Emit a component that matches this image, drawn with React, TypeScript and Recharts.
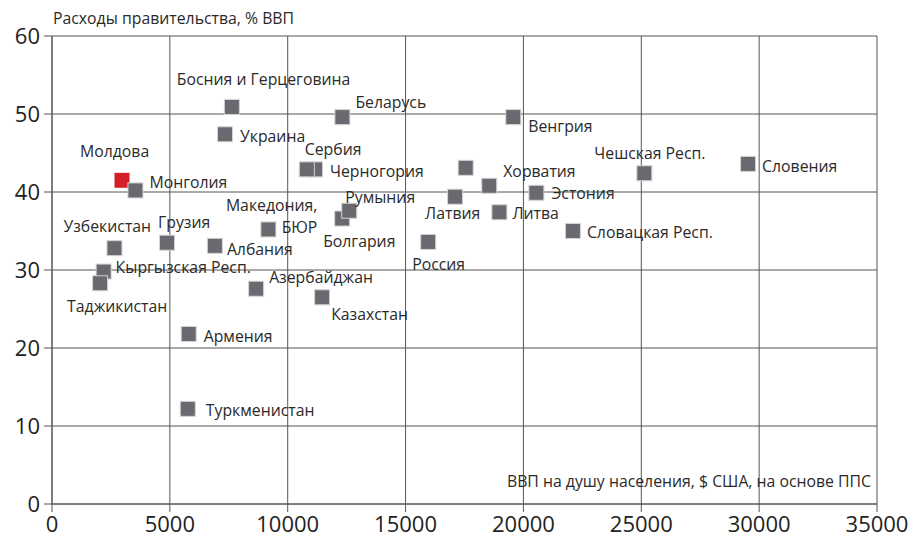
import React from "react";
import { ScatterChart, Scatter, XAxis, YAxis, CartesianGrid } from "recharts";

// Draw order matters for overlapping squares
const countries = [
  "Молдова",
  "Монголия",
  "Босния и Герцеговина",
  "Украина",
  "Беларусь",
  "Венгрия",
  "Черногория",
  "Сербия",
  "Болгария",
  "Румыния",
  "Россия",
  "Латвия",
  "",
  "Хорватия",
  "Литва",
  "Эстония",
  "Словацкая Респ.",
  "Чешская Респ.",
  "Словения",
  "Узбекистан",
  "Грузия",
  "Албания",
  "Македония,\nБЮР",
  "Кыргызская Респ.",
  "Таджикистан",
  "Азербайджан",
  "Казахстан",
  "Армения",
  "Туркменистан",
];

const gdpPerCapita = [
  2970, 3540, 7630, 7340, 12320, 19570, 11160, 10810, 12310, 12610, 15960,
  17100, 17550, 18550, 18980, 20550, 22100, 25130, 29530, 2650, 4880, 6910,
  9180, 2190, 2040, 8660, 11460, 5800, 5760,
];

const govSpending = [
  41.5, 40.2, 50.9, 47.4, 49.6, 49.6, 42.9, 42.9, 36.6, 37.6, 33.6, 39.4,
  43.1, 40.8, 37.4, 39.9, 35.0, 42.4, 43.6, 32.8, 33.5, 33.1, 35.2, 29.8,
  28.3, 27.6, 26.5, 21.8, 12.2,
];

const highlighted = ["Молдова"];

const xTicks = [0, 5000, 10000, 15000, 20000, 25000, 30000, 35000];
const yTicks = [0, 10, 20, 30, 40, 50, 60];

const yTitle = "Расходы правительства, % ВВП";
const xTitle = "ВВП на душу населения, $ США, на основе ППС";

// label placement relative to marker centre: [dx, dy, anchor]
const labelPlacement: Record<string, [number, number, string]> = {
  "Молдова": [-42, -29, "start"],
  "Монголия": [14, -8, "start"],
  "Босния и Герцеговина": [-55, -28, "start"],
  "Украина": [15, 2, "start"],
  "Беларусь": [13, -15, "start"],
  "Венгрия": [15, 9, "start"],
  "Черногория": [15, 2, "start"],
  "Сербия": [-2, -20, "start"],
  "Болгария": [-19, 22, "start"],
  "Румыния": [-4, -14, "start"],
  "Россия": [-16, 22, "start"],
  "Латвия": [-30, 16, "start"],
  "Хорватия": [14, -15, "start"],
  "Литва": [13, 1, "start"],
  "Эстония": [15, 0, "start"],
  "Словацкая Респ.": [14, 1, "start"],
  "Чешская Респ.": [-50, -20, "start"],
  "Словения": [14, 2, "start"],
  "Узбекистан": [-51, -22, "start"],
  "Грузия": [-9, -21, "start"],
  "Албания": [12, 3, "start"],
  "Македония,\nБЮР": [49, -24, "end"],
  "Кыргызская Респ.": [12, -5, "start"],
  "Таджикистан": [-33, 23, "start"],
  "Азербайджан": [13, -12, "start"],
  "Казахстан": [9, 17, "start"],
  "Армения": [15, 2, "start"],
  "Туркменистан": [18, 1, "start"],
};

const points = countries.map((name, i) => ({
  name,
  x: gdpPerCapita[i],
  y: govSpending[i],
}));
const redPoints = points.filter((p) => highlighted.includes(p.name));
const grayPoints = points.filter((p) => !highlighted.includes(p.name));

const FONT = "'Open Sans', sans-serif";
const LABEL_SIZE = 15.8;

const Square = (fill: string, stroke: string) => (props: any) => {
  const { cx, cy } = props;
  if (cx == null || cy == null) return null;
  const s = 15;
  return (
    <rect
      x={cx - s / 2}
      y={cy - s / 2}
      width={s}
      height={s}
      fill={fill}
      stroke={stroke}
      strokeWidth={1}
    />
  );
};

const LabelShape = (props: any) => {
  const { cx, cy, payload } = props;
  if (cx == null || cy == null || !payload || !payload.name) return null;
  const place = labelPlacement[payload.name];
  if (!place) return null;
  const [dx, dy, anchor] = place;
  const lines = String(payload.name).split("\n");
  return (
    <text
      x={cx + dx}
      y={cy + dy}
      textAnchor={anchor as any}
      dominantBaseline="central"
      fontFamily={FONT}
      fontSize={LABEL_SIZE}
      fill="#2a2a2a"
    >
      {lines.map((l, i) => (
        <tspan key={i} x={cx + dx} dy={i === 0 ? 0 : 22}>
          {l}
        </tspan>
      ))}
    </text>
  );
};

export default function App() {
  return (
    <div
      style={{
        position: "absolute",
        left: 0,
        top: 0,
        width: 913,
        height: 544,
        background: "#fff",
      }}
    >
      <ScatterChart
        width={913}
        height={544}
        margin={{ top: 36, right: 36, bottom: 0, left: 0 }}
      >
        <CartesianGrid stroke="#555" strokeWidth={1} />
        <XAxis
          type="number"
          dataKey="x"
          domain={[0, 35000]}
          ticks={xTicks}
          interval={0}
          height={40}
          tickSize={8}
          axisLine={{ stroke: "#555" }}
          tickLine={{ stroke: "#555" }}
          tick={{ fontSize: 22, fill: "#222", fontFamily: FONT }}
          tickMargin={4}
        />
        <YAxis
          type="number"
          dataKey="y"
          domain={[0, 60]}
          ticks={yTicks}
          interval={0}
          width={52}
          tickSize={8}
          axisLine={{ stroke: "#555" }}
          tickLine={{ stroke: "#555" }}
          tick={{ fontSize: 22, fill: "#222", fontFamily: FONT }}
          tickMargin={4}
        />
        <Scatter
          data={redPoints}
          shape={Square("#d51f26", "none")}
          isAnimationActive={false}
        />
        <Scatter
          data={grayPoints}
          shape={Square("#69696f", "#d4d4d4")}
          isAnimationActive={false}
        />
        <Scatter data={points} shape={LabelShape} isAnimationActive={false} />
      </ScatterChart>
      <div
        style={{
          position: "absolute",
          left: 53,
          top: 7,
          fontFamily: FONT,
          fontSize: LABEL_SIZE,
          color: "#2a2a2a",
          whiteSpace: "nowrap",
          lineHeight: "22px",
        }}
      >
        {yTitle}
      </div>
      <div
        style={{
          position: "absolute",
          right: 913 - 871,
          top: 470,
          fontFamily: FONT,
          fontSize: LABEL_SIZE,
          color: "#2a2a2a",
          whiteSpace: "nowrap",
          lineHeight: "22px",
        }}
      >
        {xTitle}
      </div>
    </div>
  );
}
